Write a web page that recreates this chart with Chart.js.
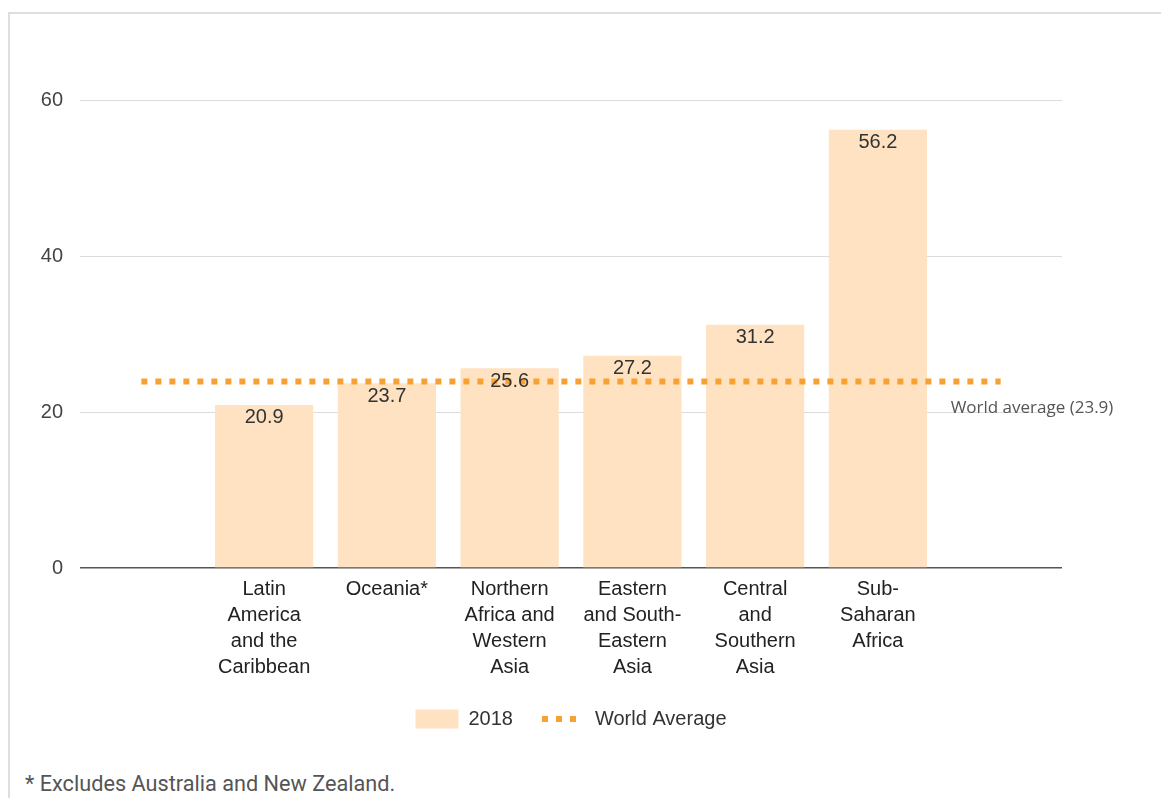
<!DOCTYPE html>
<html>
<head>
<meta charset="utf-8">
<script src="https://cdn.jsdelivr.net/npm/chart.js@4.4.1/dist/chart.umd.min.js"></script>
<style>
  html, body { margin: 0; padding: 0; background: #fff; }
  body { width: 1161px; height: 798px; position: relative; overflow: hidden; }
  #frame {
    position: absolute; left: 8px; top: 12px; right: 0; bottom: 0;
    border-left: 2px solid #dedede; border-top: 2px solid #dedede;
  }
  #wrap { position: absolute; left: 0; top: 0; width: 1161px; height: 739px; }
  #note {
    position: absolute; left: 25px; top: 771px;
    font-family: Roboto, "Liberation Sans", sans-serif; font-size: 21.7px;
    line-height: 26px; color: #555; white-space: nowrap;
  }
</style>
</head>
<body>
<div id="frame"></div>
<div id="wrap"><canvas id="chart"></canvas></div>
<div id="note">* Excludes Australia and New Zealand.</div>
<script>
// empty slot at each end, the world average line runs across them
const regions = [
  '',
  ['Latin', 'America', 'and the', 'Caribbean'],
  'Oceania*',
  ['Northern', 'Africa and', 'Western', 'Asia'],
  ['Eastern', 'and South-', 'Eastern', 'Asia'],
  ['Central', 'and', 'Southern', 'Asia'],
  ['Sub-', 'Saharan', 'Africa'],
  ''
];
const values2018 = [null, 20.9, 23.7, 25.6, 27.2, 31.2, 56.2, null];
const worldAverage = [23.9, 23.9, 23.9, 23.9, 23.9, 23.9, 23.9, 23.9];
const yTicks = [0, 20, 40, 60];

const barColor = '#FFE2C2';
const lineColor = '#F8A133';
const fontFamily = '"Liberation Sans", Arial, sans-serif';

// numbers inside the top of each bar + the note beside the line
const valueLabels = {
  id: 'valueLabels',
  afterDatasetsDraw(chart) {
    const ctx = chart.ctx;
    const meta = chart.getDatasetMeta(0);
    ctx.save();
    ctx.font = '20px ' + fontFamily;
    ctx.fillStyle = '#333';
    ctx.textAlign = 'center';
    ctx.textBaseline = 'middle';
    meta.data.forEach((bar, i) => {
      if (values2018[i] == null) return;
      ctx.fillText(values2018[i].toFixed(1), bar.x, bar.y + 13);
    });
    const x = chart.scales.x.getPixelForValue(regions.length - 1) - 50;
    const y = chart.scales.y.getPixelForValue(worldAverage[0]) + 27;
    ctx.font = '17px "Open Sans", sans-serif';
    ctx.fillStyle = '#555';
    ctx.textAlign = 'left';
    ctx.fillText('World average (' + worldAverage[0] + ')', x, y);
    ctx.restore();
  }
};

// the built in legend box can't do dots, so paint them over the empty box
const dottedLegend = {
  id: 'dottedLegend',
  afterDraw(chart) {
    const idx = chart.legend.legendItems.findIndex(it => it.datasetIndex === 1);
    const box = chart.legend.legendHitBoxes[idx];
    if (!box) return;
    const ctx = chart.ctx;
    const cy = box.top + box.height / 2;
    ctx.save();
    ctx.fillStyle = lineColor;
    for (let k = 0; k < 3; k++) {
      ctx.fillRect(box.left + k * 14, cy - 3, 6, 6);
    }
    ctx.restore();
  }
};

new Chart(document.getElementById('chart'), {
  type: 'bar',
  data: {
    labels: regions,
    datasets: [{
      label: '2018',
      data: values2018,
      backgroundColor: barColor,
      borderWidth: 0,
      barPercentage: 0.8,
      categoryPercentage: 1.0,
      order: 1
    }, {
      type: 'line',
      label: 'World Average',
      data: worldAverage,
      borderColor: lineColor,
      borderWidth: 6,
      borderDash: [6, 8],
      pointRadius: 0,
      fill: false,
      order: 0
    }]
  },
  options: {
    responsive: true,
    maintainAspectRatio: false,
    animation: false,
    layout: { padding: { left: 0, right: 99, top: 100, bottom: 0 } },
    scales: {
      x: {
        grid: { display: false, drawTicks: false },
        border: { display: false },
        ticks: {
          autoSkip: false, maxRotation: 0, padding: 8, color: '#222',
          font: { family: fontFamily, size: 20, lineHeight: 1.3 }
        },
        afterFit(scale) { scale.height = 112; }
      },
      y: {
        min: 0, max: 60,
        afterBuildTicks(scale) { scale.ticks = yTicks.map(v => ({ value: v })); },
        grid: {
          drawTicks: false,
          color: c => c.tick && c.tick.value === 0 ? '#555' : '#dcdcdc',
          lineWidth: c => c.tick && c.tick.value === 0 ? 1.5 : 1
        },
        border: { display: false },
        ticks: {
          padding: 17, color: '#444',
          font: { family: fontFamily, size: 20 }
        },
        afterFit(scale) { scale.width = 80; }
      }
    },
    plugins: {
      tooltip: { enabled: false },
      legend: {
        position: 'bottom',
        fullSize: false,
        labels: {
          boxWidth: 43, boxHeight: 19, padding: 29, color: '#333',
          font: { family: fontFamily, size: 20 },
          sort: (a, b) => a.datasetIndex - b.datasetIndex,
          generateLabels(chart) {
            const items = Chart.defaults.plugins.legend.labels.generateLabels(chart);
            items.forEach(it => {
              if (it.datasetIndex === 1) {
                it.fillStyle = 'rgba(0,0,0,0)';
                it.strokeStyle = 'rgba(0,0,0,0)';
              }
              it.lineWidth = 0;
            });
            return items;
          }
        }
      }
    }
  },
  plugins: [valueLabels, dottedLegend]
});
</script>
</body>
</html>
